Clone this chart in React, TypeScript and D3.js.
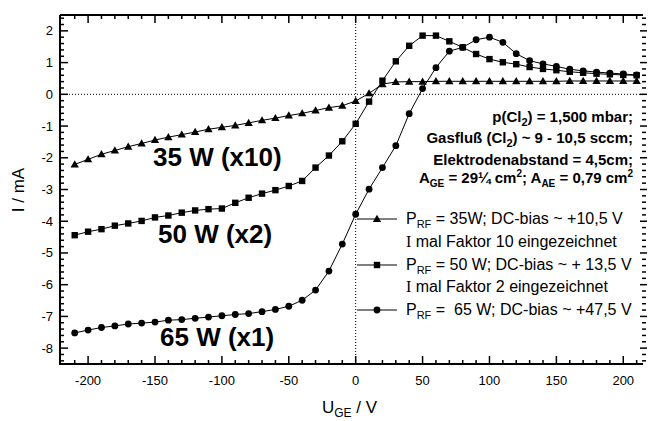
import React from "react";
import * as d3 from "d3";

const volts = [-210, -200, -190, -180, -170, -160, -150, -140, -130, -120, -110, -100, -90, -80, -70, -60, -50, -40, -30, -20, -10, 0, 10, 20, 30, 40, 50, 60, 70, 80, 90, 100, 110, 120, 130, 140, 150, 160, 170, 180, 190, 200, 210];

const tri35 = [-2.21, -2.05, -1.89, -1.77, -1.65, -1.55, -1.44, -1.35, -1.27, -1.19, -1.10, -1.04, -0.98, -0.90, -0.82, -0.75, -0.67, -0.60, -0.51, -0.42, -0.36, -0.21, 0.03, 0.32, 0.39, 0.40, 0.40, 0.41, 0.41, 0.41, 0.41, 0.41, 0.41, 0.41, 0.41, 0.41, 0.41, 0.42, 0.42, 0.42, 0.42, 0.42, 0.42];

const sq50 = [-4.44, -4.33, -4.25, -4.14, -4.07, -3.99, -3.88, -3.82, -3.73, -3.66, -3.62, -3.60, -3.42, -3.26, -3.13, -3.02, -2.89, -2.73, -2.31, -1.93, -1.48, -0.93, -0.23, 0.43, 1.04, 1.53, 1.85, 1.85, 1.67, 1.48, 1.27, 1.11, 1.01, 0.95, 0.86, 0.80, 0.76, 0.71, 0.68, 0.65, 0.63, 0.61, 0.60];

const circ65 = [-7.52, -7.43, -7.35, -7.30, -7.24, -7.21, -7.18, -7.12, -7.10, -7.06, -7.02, -6.98, -6.94, -6.91, -6.85, -6.78, -6.68, -6.49, -6.17, -5.57, -4.72, -3.78, -2.99, -2.31, -1.62, -0.61, 0.18, 0.84, 1.36, 1.48, 1.72, 1.80, 1.64, 1.28, 1.06, 0.96, 0.88, 0.79, 0.74, 0.70, 0.67, 0.64, 0.61];

const xTickLabels = [-200, -150, -100, -50, 0, 50, 100, 150, 200];
const yTickLabels = [2, 1, 0, -1, -2, -3, -4, -5, -6, -7, -8];

const W = 648;
const H = 421;
const L = 60, R = 642, T = 15, B = 364;
const FONT = "'Liberation Sans', Arial, Helvetica, sans-serif";

const x = d3.scaleLinear().domain([-221, 214]).range([L, R]);
const y = d3.scaleLinear().domain([-8.5, 2.5]).range([B, T]);

type Shape = "tri" | "sq" | "circ";

function Marker({ cx, cy, shape }: { cx: number; cy: number; shape: Shape }) {
  if (shape === "circ") return <circle cx={cx} cy={cy} r={3.4} fill="#000" />;
  if (shape === "sq") return <rect x={cx - 3.2} y={cy - 3.2} width={6.4} height={6.4} fill="#000" />;
  const s = d3.symbol(d3.symbolTriangle, 30)();
  return <path d={s || ""} transform={`translate(${cx},${cy + 0.6})`} fill="#000" />;
}

function Series({ vals, shape }: { vals: number[]; shape: Shape }) {
  const line = d3
    .line<number>()
    .x((_, i) => x(volts[i]))
    .y((d) => y(d));
  return (
    <g>
      <path d={line(vals) || ""} fill="none" stroke="#000" strokeWidth={1} />
      {vals.map((v, i) => (
        <Marker key={i} cx={x(volts[i])} cy={y(v)} shape={shape} />
      ))}
    </g>
  );
}

export default function App() {
  const xMinor = d3.range(-210, 211, 10);
  const yMinor = d3.range(-8.4, 2.45, 0.2);

  const legendRows: { shape: Shape; yy: number; label: React.ReactNode }[] = [
    {
      shape: "tri",
      yy: 219,
      label: (
        <>
          P<tspan fontSize={11} dy={4}>RF</tspan>
          <tspan dy={-4}> = 35W; DC-bias ~ +10,5 V</tspan>
        </>
      ),
    },
    {
      shape: "sq",
      yy: 265,
      label: (
        <>
          P<tspan fontSize={11} dy={4}>RF</tspan>
          <tspan dy={-4}> = 50 W; DC-bias ~ + 13,5 V</tspan>
        </>
      ),
    },
    {
      shape: "circ",
      yy: 310,
      label: (
        <>
          P<tspan fontSize={11} dy={4}>RF</tspan>
          <tspan dy={-4}>{" =\u00a0 65 W; DC-bias ~ +47,5 V"}</tspan>
        </>
      ),
    },
  ];

  return (
    <div style={{ position: "absolute", left: 0, top: 0 }}>
      <svg width={W} height={H} style={{ display: "block", background: "#fff" }} fontFamily={FONT}>
        {/* zero lines */}
        <line x1={L} x2={R} y1={y(0)} y2={y(0)} stroke="#000" strokeWidth={1} strokeDasharray="1,2" />
        <line x1={x(0)} x2={x(0)} y1={T} y2={B} stroke="#000" strokeWidth={1} strokeDasharray="1,2" />

        {/* frame */}
        <line x1={L} x2={R + 1} y1={T} y2={T} stroke="#000" strokeWidth={2} />
        <line x1={L} x2={R + 1} y1={B} y2={B} stroke="#000" strokeWidth={2} />
        <line x1={L} x2={L} y1={T} y2={B + 1} stroke="#000" strokeWidth={2} />

        {/* x ticks */}
        {xMinor.map((v) => {
          const major = v % 50 === 0;
          const len = major ? 8 : 4;
          return (
            <g key={v}>
              <line x1={x(v)} x2={x(v)} y1={B} y2={B - len} stroke="#000" strokeWidth={1.5} />
              <line x1={x(v)} x2={x(v)} y1={T} y2={T + len} stroke="#000" strokeWidth={1.5} />
            </g>
          );
        })}
        {xTickLabels.map((v) => (
          <text key={v} x={x(v)} y={385} textAnchor="middle" fontSize={13}>
            {v}
          </text>
        ))}

        {/* y ticks */}
        {yMinor.map((v, i) => {
          const r = Math.round(v * 5) / 5;
          const major = Math.abs(r - Math.round(r)) < 1e-6;
          const len = major ? 8 : 4;
          return (
            <g key={i}>
              <line x1={L} x2={L + len} y1={y(r)} y2={y(r)} stroke="#000" strokeWidth={1.5} />
              <line x1={major ? R - 2 : R} x2={major ? R + 5 : R + 4} y1={y(r)} y2={y(r)} stroke="#000" strokeWidth={1.5} />
            </g>
          );
        })}
        {yTickLabels.map((v) => (
          <text key={v} x={53} y={y(v) + 4.5} textAnchor="end" fontSize={13}>
            {v}
          </text>
        ))}

        {/* axis titles */}
        <text transform={`translate(24,190) rotate(-90)`} textAnchor="middle" fontSize={17}>
          I / mA
        </text>
        <text x={322} y={413} fontSize={17}>
          U<tspan fontSize={12} dy={4}>GE</tspan>
          <tspan dy={-4}> / V</tspan>
        </text>

        {/* data */}
        <Series vals={tri35} shape="tri" />
        <Series vals={sq50} shape="sq" />
        <Series vals={circ65} shape="circ" />

        {/* big labels */}
        <text x={153} y={166} fontSize={26} fontWeight="bold">35 W (x10)</text>
        <text x={158} y={243} fontSize={26} fontWeight="bold">50 W (x2)</text>
        <text x={160} y={346} fontSize={26} fontWeight="bold">65 W (x1)</text>

        {/* conditions */}
        <g fontSize={15} fontWeight="bold" textAnchor="end">
          <text x={633} y={122}>
            p(Cl<tspan fontSize={11} dy={4}>2</tspan>
            <tspan dy={-4}>) = 1,500 mbar;</tspan>
          </text>
          <text x={633} y={143}>
            Gasfluß (Cl<tspan fontSize={11} dy={4}>2</tspan>
            <tspan dy={-4}>) ~ 9 - 10,5 sccm;</tspan>
          </text>
          <text x={633} y={165}>Elektrodenabstand = 4,5cm;</text>
          <text x={633} y={183}>
            A<tspan fontSize={10} dy={4}>GE</tspan>
            <tspan dy={-4}> = 29¼ cm</tspan>
            <tspan fontSize={10} dy={-6}>2</tspan>
            <tspan dy={6}>; A</tspan>
            <tspan fontSize={10} dy={4}>AE</tspan>
            <tspan dy={-4}> = 0,79 cm</tspan>
            <tspan fontSize={10} dy={-6}>2</tspan>
          </text>
        </g>

        {/* legend */}
        {legendRows.map((r) => (
          <g key={r.shape}>
            <line x1={357} x2={397} y1={r.yy} y2={r.yy} stroke="#000" strokeWidth={1} />
            <Marker cx={377} cy={r.yy} shape={r.shape} />
            <text x={406} y={r.yy + 5} fontSize={16}>
              {r.label}
            </text>
          </g>
        ))}
        <text x={406} y={247} fontSize={16}>
          <tspan fontFamily="'Liberation Serif', 'Times New Roman', serif">I</tspan> mal Faktor 10 eingezeichnet
        </text>
        <text x={406} y={292} fontSize={16}>
          <tspan fontFamily="'Liberation Serif', 'Times New Roman', serif">I</tspan> mal Faktor 2 eingezeichnet
        </text>
      </svg>
    </div>
  );
}
